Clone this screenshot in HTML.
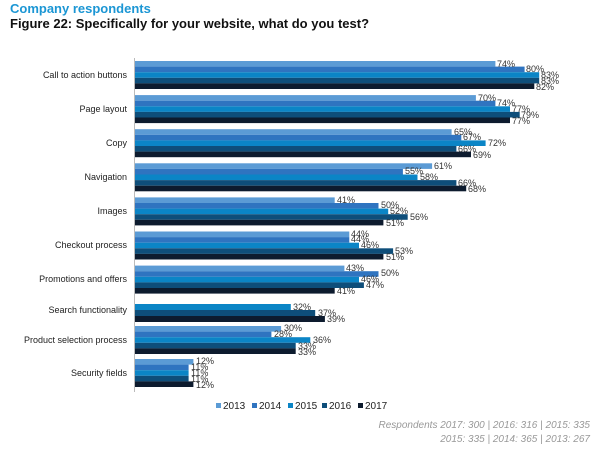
<!DOCTYPE html>
<html><head><meta charset="utf-8"><style>
body{margin:0;background:#fff;width:600px;height:452px;overflow:hidden}
svg{display:block;font-family:"Liberation Sans",sans-serif}
.c{font-size:9px;fill:#222;text-anchor:end}
.v{font-size:9px;fill:#333}
</style></head><body>
<svg width="600" height="452" viewBox="0 0 600 452">
<text x="10" y="13" font-size="13" font-weight="bold" fill="#1b96d4">Company respondents</text>
<text x="10" y="28" font-size="13" font-weight="bold" fill="#111">Figure 22: Specifically for your website, what do you test?</text>
<line x1="134.5" y1="58" x2="134.5" y2="392" stroke="#bbb"/>
<g>
<rect x="135" y="61" width="360.4" height="5.6" fill="#5b9bd5"/><rect x="135" y="66.6" width="389.6" height="5.6" fill="#2f74c0"/><rect x="135" y="72.2" width="404.2" height="5.6" fill="#0b85c6"/><rect x="135" y="77.8" width="404.2" height="5.6" fill="#0e4e7a"/><rect x="135" y="83.4" width="399.3" height="5.6" fill="#0d1b2e"/>
<text class="v" x="497" y="67">74%</text><text class="v" x="526" y="72">80%</text><text class="v" x="541" y="78">83%</text><text class="v" x="541" y="84">83%</text><text class="v" x="536" y="90">82%</text>
<text class="c" x="127" y="78">Call to action buttons</text>
<rect x="135" y="95.1" width="340.9" height="5.6" fill="#5b9bd5"/><rect x="135" y="100.7" width="360.4" height="5.6" fill="#2f74c0"/><rect x="135" y="106.3" width="375" height="5.6" fill="#0b85c6"/><rect x="135" y="111.9" width="384.7" height="5.6" fill="#0e4e7a"/><rect x="135" y="117.5" width="375" height="5.6" fill="#0d1b2e"/>
<text class="v" x="478" y="101">70%</text><text class="v" x="497" y="106">74%</text><text class="v" x="512" y="112">77%</text><text class="v" x="521" y="118">79%</text><text class="v" x="512" y="124">77%</text>
<text class="c" x="127" y="112">Page layout</text>
<rect x="135" y="129.2" width="316.6" height="5.6" fill="#5b9bd5"/><rect x="135" y="134.8" width="326.3" height="5.6" fill="#2f74c0"/><rect x="135" y="140.4" width="350.6" height="5.6" fill="#0b85c6"/><rect x="135" y="146" width="321.4" height="5.6" fill="#0e4e7a"/><rect x="135" y="151.6" width="336" height="5.6" fill="#0d1b2e"/>
<text class="v" x="454" y="135">65%</text><text class="v" x="463" y="140">67%</text><text class="v" x="488" y="146">72%</text><text class="v" x="458" y="152">66%</text><text class="v" x="473" y="158">69%</text>
<text class="c" x="127" y="146">Copy</text>
<rect x="135" y="163.3" width="297.1" height="5.6" fill="#5b9bd5"/><rect x="135" y="168.9" width="267.9" height="5.6" fill="#2f74c0"/><rect x="135" y="174.5" width="282.5" height="5.6" fill="#0b85c6"/><rect x="135" y="180.1" width="321.4" height="5.6" fill="#0e4e7a"/><rect x="135" y="185.7" width="331.2" height="5.6" fill="#0d1b2e"/>
<text class="v" x="434" y="169">61%</text><text class="v" x="405" y="174">55%</text><text class="v" x="420" y="180">58%</text><text class="v" x="458" y="186">66%</text><text class="v" x="468" y="192">68%</text>
<text class="c" x="127" y="180">Navigation</text>
<rect x="135" y="197.4" width="199.7" height="5.6" fill="#5b9bd5"/><rect x="135" y="203" width="243.5" height="5.6" fill="#2f74c0"/><rect x="135" y="208.6" width="253.2" height="5.6" fill="#0b85c6"/><rect x="135" y="214.2" width="272.7" height="5.6" fill="#0e4e7a"/><rect x="135" y="219.8" width="248.4" height="5.6" fill="#0d1b2e"/>
<text class="v" x="337" y="203">41%</text><text class="v" x="381" y="208">50%</text><text class="v" x="390" y="214">52%</text><text class="v" x="410" y="220">56%</text><text class="v" x="386" y="226">51%</text>
<text class="c" x="127" y="214">Images</text>
<rect x="135" y="231.5" width="214.3" height="5.6" fill="#5b9bd5"/><rect x="135" y="237.1" width="214.3" height="5.6" fill="#2f74c0"/><rect x="135" y="242.7" width="224" height="5.6" fill="#0b85c6"/><rect x="135" y="248.3" width="258.1" height="5.6" fill="#0e4e7a"/><rect x="135" y="253.9" width="248.4" height="5.6" fill="#0d1b2e"/>
<text class="v" x="351" y="237">44%</text><text class="v" x="351" y="242">44%</text><text class="v" x="361" y="248">46%</text><text class="v" x="395" y="254">53%</text><text class="v" x="386" y="260">51%</text>
<text class="c" x="127" y="248">Checkout process</text>
<rect x="135" y="265.6" width="209.4" height="5.6" fill="#5b9bd5"/><rect x="135" y="271.2" width="243.5" height="5.6" fill="#2f74c0"/><rect x="135" y="276.8" width="224" height="5.6" fill="#0b85c6"/><rect x="135" y="282.4" width="228.9" height="5.6" fill="#0e4e7a"/><rect x="135" y="288" width="199.7" height="5.6" fill="#0d1b2e"/>
<text class="v" x="346" y="271">43%</text><text class="v" x="381" y="276">50%</text><text class="v" x="361" y="282">46%</text><text class="v" x="366" y="288">47%</text><text class="v" x="337" y="294">41%</text>
<text class="c" x="127" y="282">Promotions and offers</text>
<rect x="135" y="304" width="155.8" height="6" fill="#0b85c6"/><rect x="135" y="310" width="180.2" height="6" fill="#0e4e7a"/><rect x="135" y="316" width="189.9" height="6" fill="#0d1b2e"/>
<text class="v" x="293" y="310">32%</text><text class="v" x="318" y="316">37%</text><text class="v" x="327" y="322">39%</text>
<text class="c" x="127" y="313">Search functionality</text>
<rect x="135" y="326" width="146.1" height="5.6" fill="#5b9bd5"/><rect x="135" y="331.6" width="136.4" height="5.6" fill="#2f74c0"/><rect x="135" y="337.2" width="175.3" height="5.6" fill="#0b85c6"/><rect x="135" y="342.8" width="160.7" height="5.6" fill="#0e4e7a"/><rect x="135" y="348.4" width="160.7" height="5.6" fill="#0d1b2e"/>
<text class="v" x="284" y="331">30%</text><text class="v" x="274" y="337">28%</text><text class="v" x="313" y="343">36%</text><text class="v" x="298" y="349">33%</text><text class="v" x="298" y="355">33%</text>
<text class="c" x="127" y="343">Product selection process</text>
<rect x="135" y="359" width="58.4" height="5.6" fill="#5b9bd5"/><rect x="135" y="364.6" width="53.6" height="5.6" fill="#2f74c0"/><rect x="135" y="370.2" width="53.6" height="5.6" fill="#0b85c6"/><rect x="135" y="375.8" width="53.6" height="5.6" fill="#0e4e7a"/><rect x="135" y="381.4" width="58.4" height="5.6" fill="#0d1b2e"/>
<text class="v" x="196" y="364">12%</text><text class="v" x="191" y="370">11%</text><text class="v" x="191" y="376">11%</text><text class="v" x="191" y="382">11%</text><text class="v" x="196" y="388">12%</text>
<text class="c" x="127" y="376">Security fields</text>
</g>
<g font-size="10" fill="#222">
<rect x="216" y="403" width="5" height="5" fill="#5b9bd5"/><text x="223" y="409">2013</text>
<rect x="252" y="403" width="5" height="5" fill="#2f74c0"/><text x="259" y="409">2014</text>
<rect x="288" y="403" width="5" height="5" fill="#0b85c6"/><text x="295" y="409">2015</text>
<rect x="322" y="403" width="5" height="5" fill="#0e4e7a"/><text x="329" y="409">2016</text>
<rect x="358" y="403" width="5" height="5" fill="#0d1b2e"/><text x="365" y="409">2017</text>
</g>
<g font-size="10" font-style="italic" fill="#999" text-anchor="end">
<text x="590" y="428">Respondents 2017: 300 | 2016: 316 | 2015: 335</text>
<text x="590" y="442">2015: 335 | 2014: 365 | 2013: 267</text>
</g>
</svg>
</body></html>
